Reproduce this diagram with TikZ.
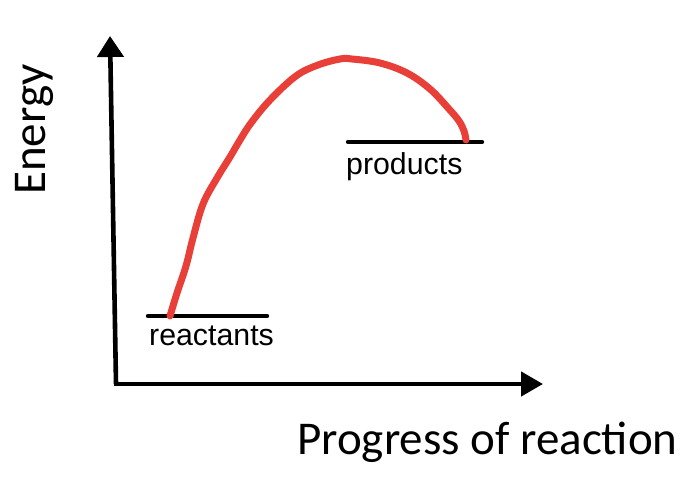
\documentclass[tikz,border=0pt]{standalone}
\usepackage{fontspec}
\setmainfont{Liberation Sans}
\newfontfamily\calib{Carlito}
\usetikzlibrary{arrows.meta}
\definecolor{curvered}{RGB}{232,64,56}
\tikzset{
  axisline/.style={line width=4.6pt},
  levelline/.style={line width=4.4pt, line cap=round},
  axislabel/.style={font=\calib\fontsize{47}{50}\selectfont, inner sep=0pt},
  levellabel/.style={font=\fontsize{30.3}{34}\selectfont, inner sep=0pt},
  curve/.style={curvered, line width=7pt, line cap=round, line join=round}
}
\begin{document}
\begin{tikzpicture}[x=1pt,y=-1pt]
\useasboundingbox (0,0) rectangle (692,476);
% axes
\coordinate (origin) at (116,384);
\coordinate (ytip) at (110,36);
\coordinate (xstart) at (113.7,384);
\coordinate (xtip) at (543,384);
\draw[axisline, -{Triangle[width=26pt,length=21pt]}] (origin) -- (ytip);
\draw[axisline, -{Triangle[width=24pt,length=22pt]}] (xstart) -- (xtip);
% levels
\coordinate (r1) at (148,316);
\coordinate (r2) at (267,316);
\coordinate (p1) at (348,142);
\coordinate (p2) at (482,142);
\draw[levelline] (r1) -- (r2);
\draw[levelline] (p1) -- (p2);
% curve
\draw[curve] plot[smooth, tension=0.6] coordinates {
 (170,316) (177,293) (186,266) (193,238) (203,204) (217,178) (230,157)
 (240,140) (251,123) (270,100) (296,76) (318,65) (340,59) (352,59)
 (380,63) (407,73) (430,89) (449,109) (459,121) (464,131) (466,140)};
% labels
\node[levellabel, anchor=base west] (reactants) at (149,345) {reactants};
\node[levellabel, anchor=base west] (products) at (346,174) {products};
\node[axislabel, anchor=base west] (xlabel) at (297,454) {Progress of reaction};
\node[axislabel, anchor=base west, rotate=90] (ylabel) at (45,195) {Energy};
\end{tikzpicture}
\end{document}
